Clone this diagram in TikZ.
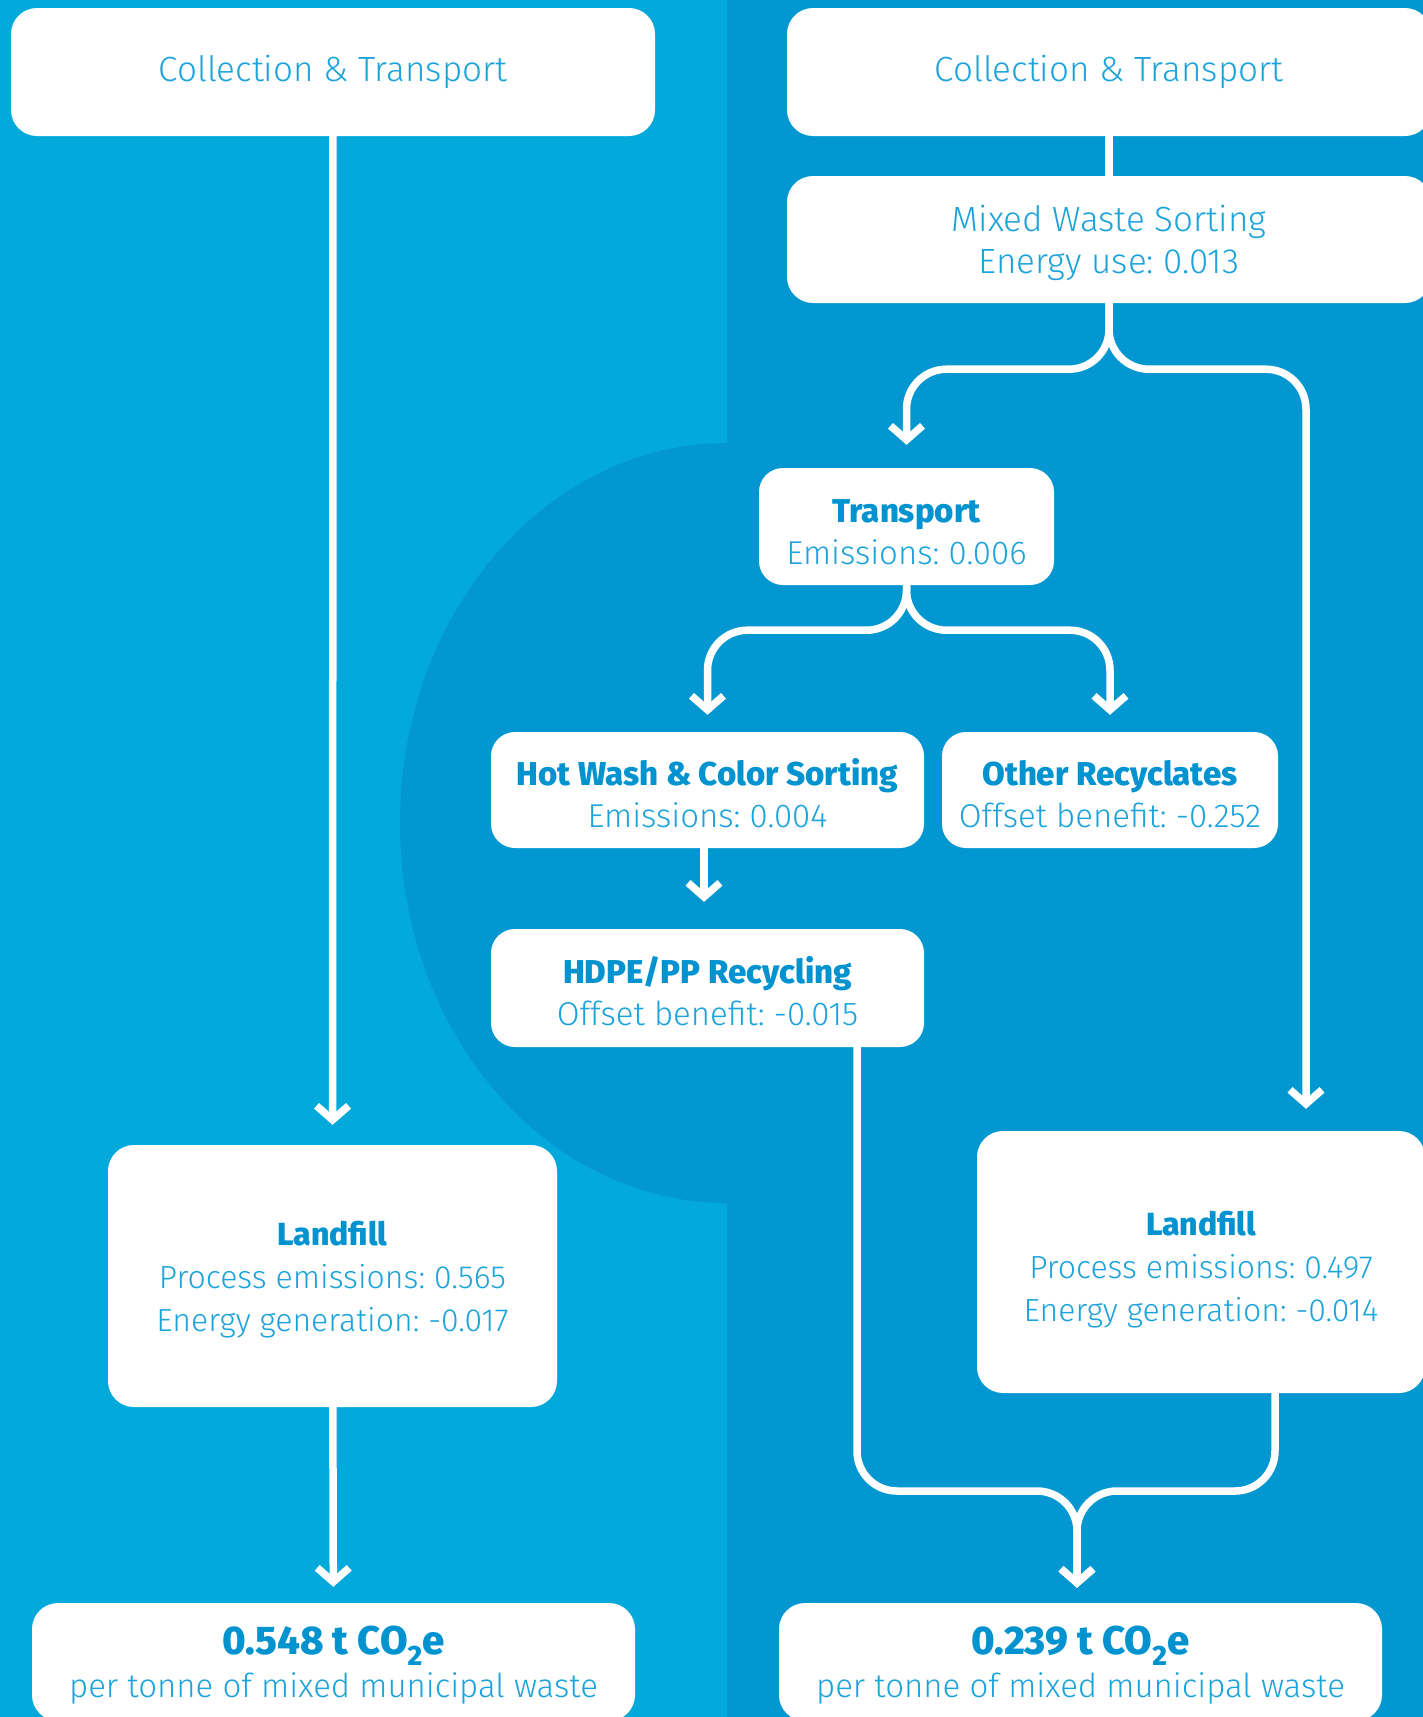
\documentclass[tikz,border=0pt]{standalone}
\usepackage{fontspec}
\setmainfont{Fira Sans}[UprightFont={* Light}, BoldFont={* ExtraBold}]
\usetikzlibrary{arrows.meta}
\definecolor{leftbg}{HTML}{04A9DB}
\definecolor{rightbg}{HTML}{0297D0}
\definecolor{titleblue}{HTML}{0093CF}
\definecolor{textblue}{HTML}{1CA3DC}
\newcommand{\boxtitle}[1]{{\bfseries\color{titleblue}#1}}
\newcommand{\lowtitle}[1]{\rule{0pt}{33pt}\boxtitle{#1}}
\frenchspacing

\begin{document}
\begin{tikzpicture}[x=1pt,y=-1pt]
	\tikzset{box/.style={fill=white, rounded corners=26pt, inner sep=0pt, align=center, text=textblue, font=\fontsize{33}{42}\selectfont}}
	\tikzset{twoline/.style={box, text depth=0pt}}
	\tikzset{smallbox/.style={twoline, rounded corners=24pt}}
	\tikzset{flow/.style={draw=white, line width=7.5pt, rounded corners=40pt, -{Straight Barb[length=14pt,width=32pt]}}}
	
	% Canvas and the two panels
	\useasboundingbox (0,0) rectangle (1423,1717);
	\clip (0,0) rectangle (1423,1717);
	\fill[leftbg] (0,0) rectangle (727,1717);
	\fill[rightbg] (727,0) rectangle (1423,1717);
	\fill[rightbg] (727,823) ellipse [x radius=327, y radius=380];
	
	% Left column: straight to landfill
	\node[box, minimum width=644pt, minimum height=128pt, font=\fontsize{35}{44}\selectfont] (ctleft) at (333,72) {Collection \& Transport};
	\node[twoline, minimum width=449pt, minimum height=262pt, font=\fontsize{32}{43}\selectfont] (lfleft) at (332.5,1276) {\boxtitle{Landfill}\\Process emissions: 0.565\\Energy generation: -0.017};
	\node[twoline, minimum width=603pt, minimum height=118pt, font=\fontsize{33}{43}\selectfont] (resleft) at (333.5,1662) {\boxtitle{\fontsize{40}{43}\selectfont 0.548 t CO\textsubscript{2}e}\\per tonne of mixed municipal waste};
	
	% Right column: sorting and recycling
	\node[box, minimum width=644pt, minimum height=128pt, font=\fontsize{35}{44}\selectfont] (ctright) at (1109,72) {Collection \& Transport};
	\node[twoline, minimum width=644pt, minimum height=127pt, font=\fontsize{35}{42}\selectfont] (mixsort) at (1109,239.5) {Mixed Waste Sorting\\Energy use: 0.013};
	\node[smallbox, minimum width=295pt, minimum height=117pt] (transp) at (906.5,526.5) {\lowtitle{Transport}\\Emissions: 0.006};
	\node[smallbox, minimum width=433pt, minimum height=116pt] (hotwash) at (707.5,790) {\lowtitle{Hot Wash \& Color Sorting}\\Emissions: 0.004};
	\node[smallbox, minimum width=336pt, minimum height=116pt] (other) at (1110,790) {\lowtitle{Other Recyclates}\\Offset benefit: -0.252};
	\node[smallbox, minimum width=433pt, minimum height=118pt] (hdpe) at (707.5,988) {\lowtitle{HDPE/PP Recycling}\\Offset benefit: -0.015};
	\node[twoline, minimum width=448pt, minimum height=262pt, font=\fontsize{32}{43}\selectfont] (lfright) at (1201,1262) {\lowtitle{Landfill}\\Process emissions: 0.497\\Energy generation: -0.014};
	\node[twoline, minimum width=603pt, minimum height=118pt, font=\fontsize{33}{43}\selectfont] (resright) at (1080.5,1662) {\boxtitle{\fontsize{40}{43}\selectfont 0.239 t CO\textsubscript{2}e}\\per tonne of mixed municipal waste};
	\coordinate (merge) at (1077,1491);
	
	% Connectors, left
	\draw[flow, shorten >=20pt] (ctleft) -- (lfleft);
	\draw[flow, shorten >=16pt] (lfleft) -- (resleft);
	
	% Connectors, right
	\draw[white, line width=7.5pt] (ctright) -- (mixsort);
	\draw[flow, shorten >=23pt] (mixsort.south) -- ++(0,66) -| (transp.north);
	\draw[flow, shorten >=22pt] (mixsort.south) -- ++(0,66) -| ([xshift=105pt]lfright.north);
	\draw[flow, shorten >=17pt] (transp.south) -- ++(0,45) -| (hotwash.north);
	\draw[flow, shorten >=17pt] (transp.south) -- ++(0,45) -| (other.north);
	\draw[flow, shorten >=27pt] (hotwash.south -| 704,0) -- (hdpe.north -| 704,0);
	\draw[flow, shorten >=15pt] ([xshift=149.5pt]hdpe.south) |- (merge) -- (resright.north -| merge);
	\draw[flow, shorten >=15pt] ([xshift=74pt]lfright.south) |- (merge) -- (resright.north -| merge);
\end{tikzpicture}
\end{document}
